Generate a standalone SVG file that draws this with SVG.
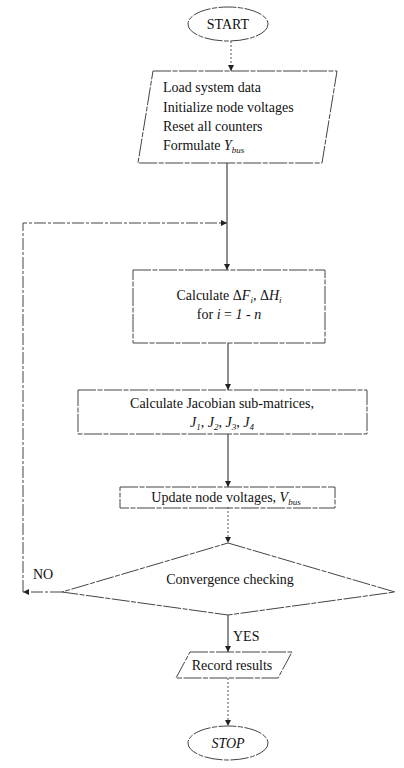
<svg xmlns="http://www.w3.org/2000/svg" width="404" height="768" viewBox="0 0 404 768">
<defs>
<marker id="arr" viewBox="0 0 10 10" refX="10" refY="5" markerWidth="6" markerHeight="6" orient="auto" markerUnits="userSpaceOnUse">
<path d="M0,0 L10,5 L0,10 z" fill="#222"/>
</marker>
</defs>
<style>
text{font-family:"Liberation Serif","Times New Roman",serif;font-size:14px;fill:#111}
.it{font-style:italic}
.sub{font-size:9px;font-style:italic}
.shape{fill:none;stroke:#444;stroke-width:1;stroke-dasharray:18 1.5 5 1.5}
.solid{fill:none;stroke:#333;stroke-width:1.1}
.dot{fill:none;stroke:#555;stroke-width:1;stroke-dasharray:2 2}
.dash{fill:none;stroke:#444;stroke-width:1;stroke-dasharray:12 2 3 2}
</style>
<g id="connectors">
<path class="dot" d="M231,41 V71" marker-end="url(#arr)"/>
<path class="solid" d="M227,163 V270" marker-end="url(#arr)"/>
<path class="dash" d="M62,592 H23" marker-end="url(#arr)"/>
<path class="dash" d="M23,592 V223 H227" marker-end="url(#arr)"/>
<path class="solid" d="M228,343 V390" marker-end="url(#arr)"/>
<path class="solid" d="M228,434 V487" marker-end="url(#arr)"/>
<path class="dot" d="M228,507 V543" marker-end="url(#arr)"/>
<path class="solid" d="M228,615 V652" marker-end="url(#arr)"/>
<path class="dot" d="M228,678 V726" marker-end="url(#arr)"/>
<text x="33" y="579">NO</text>
<text x="233" y="641">YES</text>
</g>
<g id="start">
<ellipse class="shape" cx="228" cy="24" rx="40" ry="17"/>
<text x="228" y="29" text-anchor="middle">START</text>
</g>
<g id="load">
<polygon class="shape" points="153,71 337,71 322,163 138,163"/>
<text x="163" y="92">Load system data</text>
<text x="163" y="112">Initialize node voltages</text>
<text x="163" y="131">Reset all counters</text>
<text x="163" y="150">Formulate <tspan class="it">Y</tspan><tspan class="sub" dy="3">bus</tspan></text>
</g>
<g id="calc-delta">
<rect class="shape" x="133" y="270" width="192" height="73"/>
<text x="229" y="300" text-anchor="middle">Calculate Δ<tspan class="it">F</tspan><tspan class="sub" dy="3">i</tspan><tspan dy="-3">, Δ</tspan><tspan class="it">H</tspan><tspan class="sub" dy="3">i</tspan></text>
<text x="229" y="319" text-anchor="middle">for <tspan class="it">i</tspan> = <tspan class="it">1</tspan> - <tspan class="it">n</tspan></text>
</g>
<g id="jacobian">
<rect class="shape" x="78" y="390" width="289" height="44"/>
<text x="222" y="408" text-anchor="middle">Calculate Jacobian sub-matrices,</text>
<text x="222" y="427" text-anchor="middle"><tspan class="it">J</tspan><tspan class="sub" dy="3">1</tspan><tspan dy="-3">, </tspan><tspan class="it">J</tspan><tspan class="sub" dy="3">2</tspan><tspan dy="-3">, </tspan><tspan class="it">J</tspan><tspan class="sub" dy="3">3</tspan><tspan dy="-3">, </tspan><tspan class="it">J</tspan><tspan class="sub" dy="3">4</tspan></text>
</g>
<g id="update">
<rect class="shape" x="120" y="487" width="215" height="21"/>
<text x="226" y="502" text-anchor="middle">Update node voltages, <tspan class="it">V</tspan><tspan class="sub" dy="3">bus</tspan></text>
</g>
<g id="convergence">
<polygon class="shape" points="228,543 395,592 228,615 62,592"/>
<text x="230" y="584" text-anchor="middle">Convergence checking</text>
</g>
<g id="record">
<polygon class="shape" points="190,652 292,652 278,678 176,678"/>
<text x="232" y="670" text-anchor="middle">Record results</text>
</g>
<g id="stop">
<ellipse class="shape" cx="228" cy="743" rx="40" ry="17"/>
<text x="228" y="748" text-anchor="middle" class="it">STOP</text>
</g>
</svg>
